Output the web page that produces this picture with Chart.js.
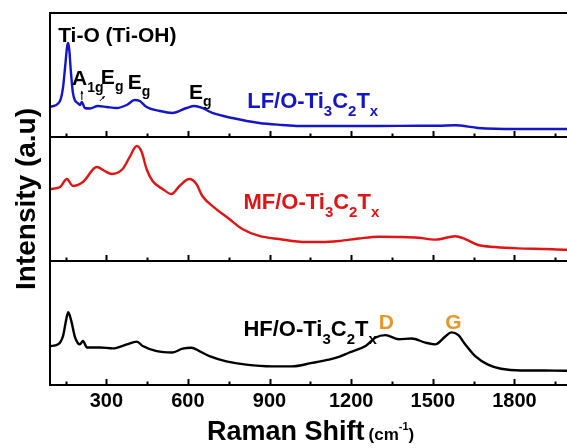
<!DOCTYPE html>
<html>
<head>
<meta charset="utf-8">
<script src="https://cdn.jsdelivr.net/npm/chart.js@4.4.1/dist/chart.umd.min.js"></script>
<style>
  html, body { margin: 0; padding: 0; background: #fff; overflow: hidden; }
  #wrap { width: 600px; height: 448px; }
</style>
</head>
<body>
<div id="wrap"><canvas id="c" width="600" height="448"></canvas></div>
<script>
// ---- data (Raman shift in cm-1, intensity in a.u. per panel, 0..100) ----
const lfShift = [93, 123, 133, 141, 150, 156, 160, 164, 170, 177, 185, 195, 203, 210, 221, 240, 269, 302, 338, 375, 404, 423, 448, 496, 543, 595, 624, 653, 690, 763, 862, 946, 1008, 1150, 1301, 1447, 1520, 1582, 1667, 1813, 1985, 2100];
const lfIntensity = [24.2, 27.0, 31, 40, 60, 73, 75.8, 70, 52, 36, 29.5, 27.4, 25.8, 28.2, 23.4, 23.0, 25, 24.2, 23.4, 25.8, 29.8, 29, 24.2, 21, 19.4, 23.4, 25, 23.4, 19.4, 15.3, 11.3, 9.7, 8.9, 8.9, 8.9, 9.1, 9.1, 9.5, 7.3, 6.5, 6.5, 6.3];

const mfShift = [93, 130, 155, 177, 214, 265, 294, 320, 360, 386, 412, 430, 448, 470, 507, 540, 569, 605, 631, 653, 704, 752, 800, 862, 935, 1034, 1092, 1155, 1228, 1301, 1374, 1447, 1509, 1582, 1619, 1667, 1729, 1813, 1912, 1985, 2100];
const mfIntensity = [58, 59.7, 66.1, 60.5, 63.7, 75.8, 72.6, 70.2, 74.2, 83.9, 92.7, 87.9, 74.2, 64.5, 58.1, 54, 60.5, 66.1, 62.1, 52.4, 41.9, 33.9, 25.8, 20.2, 17.7, 15.3, 15.3, 16.1, 18.1, 19.6, 19.4, 18.8, 17.2, 19.9, 17.7, 12.9, 11.3, 10.2, 9.7, 9.1, 9.0];

const hfShift = [93, 123, 141, 153, 160, 171, 185, 203, 214, 229, 276, 324, 375, 412, 434, 485, 543, 580, 613, 642, 679, 741, 814, 909, 982, 1056, 1118, 1155, 1191, 1253, 1290, 1326, 1374, 1422, 1473, 1509, 1546, 1568, 1594, 1619, 1656, 1703, 1751, 1824, 1912, 1985, 2100];
const hfIntensity = [31.4, 32.8, 39.6, 53.3, 58.8, 51.9, 38.5, 32.8, 35.5, 30.3, 30.3, 29.5, 32.8, 35, 31.4, 27.3, 26.2, 29.3, 30.1, 27.3, 23.2, 19.1, 16.4, 15, 15, 17.8, 20.5, 22.7, 26, 31.4, 38.3, 40.2, 36.9, 37.5, 34.2, 32.8, 39.1, 42.4, 40.2, 32.8, 23.2, 16.4, 13.1, 11.7, 11.7, 11.5, 11.5];

const xTickLabels = [300, 600, 900, 1200, 1500, 1800];
const seriesNames = ['LF/O-Ti3C2Tx', 'MF/O-Ti3C2Tx', 'HF/O-Ti3C2Tx'];

// text annotations: parts [text, mode] mode 0 normal, 1 subscript
const annotations = [
  { axis: 'y1', x: 123, y: 76.6, size: 21, color: '#000', parts: [['Ti-O (Ti-OH)', 0]] },
  { axis: 'y1', x: 174, y: 41.9, size: 21, color: '#000', parts: [['A', 0], ['1g', 1]] },
  { axis: 'y1', x: 280, y: 42.5, size: 21, color: '#000', parts: [['E', 0], ['g', 1]] },
  { axis: 'y1', x: 379, y: 38.8, size: 21, color: '#000', parts: [['E', 0], ['g', 1]] },
  { axis: 'y1', x: 604, y: 30.6, size: 21, color: '#000', parts: [['E', 0], ['g', 1]] },
  { axis: 'y1', x: 818, y: 23.0, size: 22, color: '#1414c8', parts: [['LF/O-Ti', 0], ['3', 1], ['C', 0], ['2', 1], ['T', 0], ['x', 1]] },
  { axis: 'y2', x: 804, y: 41.9, size: 22, color: '#e01414', parts: [['MF/O-Ti', 0], ['3', 1], ['C', 0], ['2', 1], ['T', 0], ['x', 1]] },
  { axis: 'y3', x: 804, y: 39.3, size: 22, color: '#000', parts: [['HF/O-Ti', 0], ['3', 1], ['C', 0], ['2', 1], ['T', 0], ['x', 1]] },
  { axis: 'y3', x: 1301, y: 45.1, size: 21, color: '#e8962a', parts: [['D', 0]] },
  { axis: 'y3', x: 1546, y: 45.1, size: 21, color: '#e8962a', parts: [['G', 0]] }
];
const arrows = [
  { axis: 'y1', x0: 210, y0: 29.8, x1: 210, y1: 37.1 },
  { axis: 'y1', x0: 276, y0: 29.0, x1: 294, y1: 33.0 }
];

const FONT = '"Liberation Sans", Arial, Helvetica, sans-serif';

function drawParts(ctx, x, y, parts, size, color) {
  ctx.fillStyle = color;
  ctx.textBaseline = 'alphabetic';
  ctx.textAlign = 'left';
  let cx = x;
  for (const [t, mode] of parts) {
    const s = mode === 0 ? size : Math.round(size * 0.66);
    ctx.font = `bold ${s}px ${FONT}`;
    let dy = 0;
    if (mode === 1) dy = size * 0.34;
    if (mode === 2) dy = -size * 0.45;
    ctx.fillText(t, cx, y + dy);
    cx += ctx.measureText(t).width;
  }
  return cx;
}

const decor = {
  id: 'decor',
  afterDatasetsDraw(chart) {
    const ctx = chart.ctx;
    const a = chart.chartArea;
    const xs = chart.scales.x;
    ctx.save();
    ctx.strokeStyle = '#000';
    ctx.lineWidth = 2;
    ctx.strokeRect(a.left, a.top, a.right - a.left, a.bottom - a.top);
    const bottoms = ['y1', 'y2', 'y3'].map(id => chart.scales[id].getPixelForValue(0));
    for (const yb of bottoms) {
      ctx.beginPath();
      ctx.moveTo(a.left, yb);
      ctx.lineTo(a.right, yb);
      ctx.stroke();
      for (const t of xs.ticks) {
        const px = Math.round(xs.getPixelForValue(t.value)) + 0.5;
        const len = xTickLabels.includes(t.value) ? 6 : 3.5;
        ctx.beginPath();
        ctx.moveTo(px, yb);
        ctx.lineTo(px, yb - len);
        ctx.stroke();
      }
    }
    // annotations
    for (const an of annotations) {
      const px = xs.getPixelForValue(an.x);
      const py = chart.scales[an.axis].getPixelForValue(an.y);
      drawParts(ctx, px, py, an.parts, an.size, an.color);
    }
    ctx.lineWidth = 1;
    for (const ar of arrows) {
      const ys = chart.scales[ar.axis];
      const x0 = xs.getPixelForValue(ar.x0), y0 = ys.getPixelForValue(ar.y0);
      const x1 = xs.getPixelForValue(ar.x1), y1 = ys.getPixelForValue(ar.y1);
      ctx.beginPath(); ctx.moveTo(x0, y0); ctx.lineTo(x1, y1); ctx.stroke();
      const ang = Math.atan2(y1 - y0, x1 - x0);
      ctx.beginPath();
      ctx.moveTo(x1, y1);
      ctx.lineTo(x1 - 3 * Math.cos(ang - 0.5), y1 - 3 * Math.sin(ang - 0.5));
      ctx.lineTo(x1 - 3 * Math.cos(ang + 0.5), y1 - 3 * Math.sin(ang + 0.5));
      ctx.closePath();
      ctx.fillStyle = '#000';
      ctx.fill();
    }
    // axis titles
    ctx.fillStyle = '#000';
    let cx = a.left + 157;
    const by = a.bottom + 55;
    ctx.font = `bold 27px ${FONT}`;
    ctx.textBaseline = 'alphabetic';
    ctx.textAlign = 'left';
    ctx.fillText('Raman Shift', cx, by);
    cx += ctx.measureText('Raman Shift').width + 4;
    ctx.font = `bold 17px ${FONT}`;
    ctx.fillText('(cm', cx, by);
    cx += ctx.measureText('(cm').width;
    ctx.font = `bold 11px ${FONT}`;
    ctx.fillText('-1', cx, by - 10);
    cx += ctx.measureText('-1').width;
    ctx.font = `bold 17px ${FONT}`;
    ctx.fillText(')', cx, by);

    ctx.save();
    ctx.translate(35, (a.top + a.bottom) / 2);
    ctx.rotate(-Math.PI / 2);
    ctx.textAlign = 'center';
    ctx.font = `bold 28px ${FONT}`;
    ctx.fillText('Intensity (a.u)', 0, 0);
    ctx.restore();
    ctx.restore();
  }
};

const toXY = (xs, ys) => xs.map((v, i) => ({ x: v, y: ys[i] }));

new Chart(document.getElementById('c'), {
  type: 'line',
  data: {
    datasets: [
      { label: seriesNames[0], data: toXY(lfShift, lfIntensity), yAxisID: 'y1', borderColor: '#1414c8' },
      { label: seriesNames[1], data: toXY(mfShift, mfIntensity), yAxisID: 'y2', borderColor: '#e01414' },
      { label: seriesNames[2], data: toXY(hfShift, hfIntensity), yAxisID: 'y3', borderColor: '#000000' }
    ]
  },
  options: {
    responsive: false,
    devicePixelRatio: 1,
    animation: false,
    layout: { padding: { left: 50, top: 13, right: 1.6, bottom: 0 } },
    elements: {
      point: { radius: 0 },
      line: { borderWidth: 2.4, cubicInterpolationMode: 'monotone', fill: false }
    },
    plugins: { legend: { display: false }, tooltip: { enabled: false } },
    scales: {
      x: {
        type: 'linear',
        min: 93,
        max: 2100,
        grid: { display: false, drawTicks: false },
        border: { display: false },
        ticks: {
          stepSize: 150,
          includeBounds: false,
          autoSkip: false,
          maxRotation: 0,
          padding: 4,
          color: '#000',
          font: { family: FONT, size: 20, weight: 'bold' },
          callback: (v) => xTickLabels.includes(v) ? String(v) : ''
        },
        afterFit: (s) => { s.height = 63; }
      },
      y1: { display: false, min: -200, max: 100 },
      y2: { display: false, min: -100, max: 200 },
      y3: { display: false, min: 0, max: 300 }
    }
  },
  plugins: [decor]
});
</script>
</body>
</html>
